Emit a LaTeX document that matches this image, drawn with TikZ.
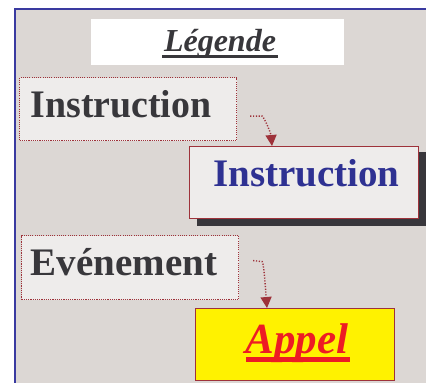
\documentclass[tikz,border=0pt]{standalone}
\usepackage{fontspec}
\setmainfont{Liberation Serif}
\usetikzlibrary{arrows.meta}
\definecolor{panelgray}{HTML}{DCD7D4}
\definecolor{boxfill}{HTML}{EEECEB}
\definecolor{inkdark}{HTML}{38373B}
\definecolor{inkblue}{HTML}{2E3192}
\definecolor{inkred}{HTML}{ED1C24}
\definecolor{signyellow}{HTML}{FFF200}
\definecolor{wine}{HTML}{9E323A}
\definecolor{framblue}{HTML}{3A3AA0}
\definecolor{shadowgray}{HTML}{38363B}
\tikzset{
  dotbox/.style={draw=wine, line width=1.2pt, dash pattern=on 1.1pt off 1.1pt,
    fill=boxfill, rectangle, inner sep=0pt, anchor=north west},
  solidbox/.style={draw=wine, line width=1.4pt, rectangle, inner sep=0pt, anchor=north west},
  bigtxt/.style={font=\fontsize{39}{39}\selectfont\bfseries, inner sep=0pt, anchor=base},
  link/.style={wine, line width=1.4pt, dash pattern=on 1.2pt off 1.6pt,
    -{Triangle[length=11pt,width=11pt]}},
}
\begin{document}
\begin{tikzpicture}[x=1pt,y=-1pt]
\useasboundingbox (0,0) rectangle (426,383);
\clip (0,0) rectangle (426,383);
% panel with its blue frame
\fill[white] (0,0) rectangle (426,383);
\draw[framblue, line width=1.3pt, fill=panelgray] (15,400) -- (15,9) -- (440,9) -- (440,400) -- cycle;
% title
\fill[white] (91,19) rectangle (344,65);
\node[font=\fontsize{32}{32}\selectfont\bfseries\itshape, text=inkdark, inner sep=0pt, anchor=base] (title) at (220,51) {Légende};
\draw[inkdark, line width=3.5pt] (162,56.5) -- (278,56.5);
% instruction pair
\node[dotbox, minimum width=217, minimum height=63] (src1) at (19,77) {};
\node[bigtxt, text=inkdark] (src1txt) at (121,117) {\scalebox{0.97}[1]{Instruction}};
\fill[shadowgray] (197,152) rectangle (440,226);
\node[solidbox, fill=boxfill, minimum width=229, minimum height=72] (dst1) at (189,146) {};
\node[bigtxt, text=inkblue] (dst1txt) at (306.5,186) {Instruction};
% event pair
\node[dotbox, minimum width=217, minimum height=64] (src2) at (21,235) {};
\node[bigtxt, text=inkdark] (src2txt) at (124,275) {Evénement};
\node[solidbox, fill=signyellow, minimum width=199, minimum height=72] (dst2) at (195,308) {};
\node[font=\fontsize{43}{43}\selectfont\bfseries\itshape, text=inkred, inner sep=0pt, anchor=base] (dst2txt) at (297,353) {Appel};
\draw[inkred, line width=4.5pt] (246,359.5) -- (350,359.5);
% connectors
\coordinate (l1) at ([xshift=13pt,yshift=-7pt]src1.east);
\draw[link] (l1) -- ++(12,0) .. controls +(3,3) and +(-1,-12) .. ([xshift=83pt]dst1.north west);
\coordinate (l2) at ([xshift=14pt,yshift=7pt]src2.east);
\draw[link] (l2) -- ++(9,1) .. controls +(2,3) and +(-1,-12) .. ([xshift=72pt]dst2.north west);
\end{tikzpicture}
\end{document}
